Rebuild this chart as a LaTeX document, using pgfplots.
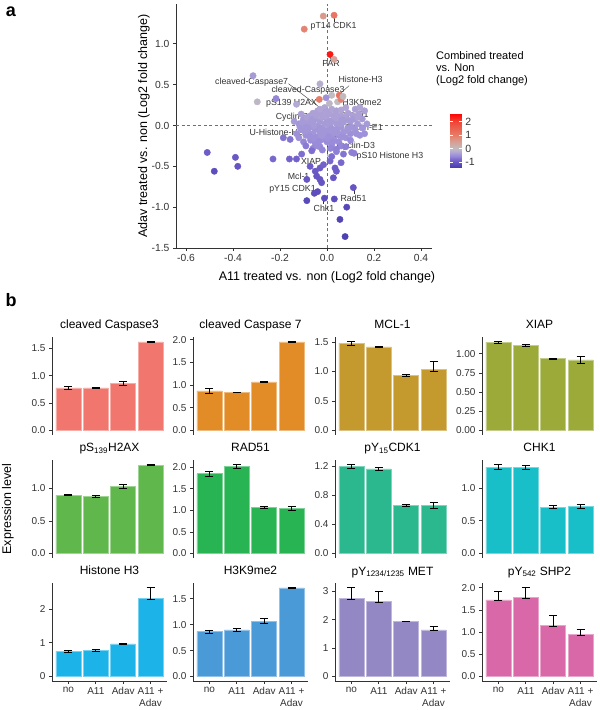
\documentclass[border=0pt]{standalone}
\usepackage{fontspec}
\setmainfont{Liberation Sans}
\usepackage{pgfplots}
\pgfplotsset{compat=1.18}
\definecolor{tk}{HTML}{333333}
\definecolor{c1}{HTML}{F0766E}
\definecolor{c2}{HTML}{E28C28}
\definecolor{c3}{HTML}{C49A2E}
\definecolor{c4}{HTML}{9CAA3A}
\definecolor{c5}{HTML}{60B84C}
\definecolor{c6}{HTML}{28B452}
\definecolor{c7}{HTML}{2CB88E}
\definecolor{c8}{HTML}{18BEC8}
\definecolor{c9}{HTML}{1CB4E8}
\definecolor{c10}{HTML}{4A9AD8}
\definecolor{c11}{HTML}{9488C4}
\definecolor{c12}{HTML}{D868A8}
\tikzset{lab/.style={font=\fontsize{8.8}{10}\selectfont, text=tk, inner sep=0pt}}
\pgfplotsset{
 bp/.style={scale only axis, width=115pt, height=98pt, anchor=north west,
  ybar, bar width=25pt,
  xmin=0.4, xmax=4.6, xtick={1,2,3,4},
  axis line style={tk, line width=0.8pt}, tick align=outside, major tick length=3pt,
  tick style={tk, line width=0.8pt},
  ticklabel style={font=\fontsize{10}{11}\selectfont, text=tk},
  title style={font=\fontsize{12}{14}\selectfont, at={(0.5,1)}, anchor=base, yshift=2pt, inner sep=0pt},
 },
 toprow/.style={axis y line*=left, axis x line=none},
 botrow/.style={axis lines*=left, xticklabels={no,A11,Adav,{A11 +\\Adav}}, xticklabel style={align=center, font=\fontsize{10}{12}\selectfont}},
 eb/.style={error bars/.cd, y dir=both, y explicit, error bar style={black, line width=0.7pt}, error mark options={black, line width=0.7pt, mark size=4pt, rotate=90}},
}
\begin{document}
\begin{tikzpicture}
\useasboundingbox (0pt,0pt) rectangle (600pt,710pt);
% panel letters
\node[font=\bfseries\fontsize{18}{20}\selectfont] at (11pt,698pt) {a};
\node[font=\bfseries\fontsize{18}{20}\selectfont] at (11pt,410pt) {b};
% scatter
\begin{axis}[
 at={(176pt,462pt)}, anchor=south west, scale only axis, width=256pt, height=244pt,
 xmin=-0.643, xmax=0.447, ymin=-1.5, ymax=1.488,
 axis lines*=left, axis line style={tk, line width=0.8pt},
 tick align=outside, major tick length=3pt, tick style={tk, line width=0.8pt},
 xtick={-0.6,-0.4,-0.2,0,0.2,0.4}, xticklabels={-0.6,-0.4,-0.2,0.0,0.2,0.4},
 ytick={-1.5,-1,-0.5,0,0.5,1}, yticklabels={-1.5,-1.0,-0.5,0.0,0.5,1.0},
 ticklabel style={font=\fontsize{10.3}{12}\selectfont, text=tk},
 colormap={cb}{rgb255(0pt)=(72,60,175) rgb255(4.7pt)=(110,92,200) rgb255(8.7pt)=(155,140,218) rgb255(11.7pt)=(180,170,212) rgb255(13.7pt)=(192,188,192) rgb255(18.7pt)=(215,160,150) rgb255(23.7pt)=(230,125,105) rgb255(33.7pt)=(240,70,55) rgb255(39.9pt)=(255,0,0)},
 point meta min=-1.37, point meta max=2.62,
 colorbar,
 colorbar style={at={(parent axis.north east)}, anchor=north west, xshift=9.7pt, yshift=-109.3pt,
   width=11.6pt, height=54pt, ytick={-1,0,1,2}, yticklabels={-1,0,1,2},
   yticklabel style={font=\fontsize{10.5}{12}\selectfont, text=tk},
   axis line style={draw=none}, major tick length=3pt, tick style={white, line width=0.6pt}},
 clip=false,
]
\draw[tk!70, line width=0.6pt, dash pattern=on 3pt off 2.5pt] (axis cs:0,-1.5) -- (axis cs:0,1.488);
\draw[tk!70, line width=0.6pt, dash pattern=on 3pt off 2.5pt] (axis cs:-0.643,0) -- (axis cs:0.447,0);
\addplot[scatter, only marks, mark=*, mark size=3.2pt, point meta=explicit,
 scatter/use mapped color={draw=mapped color, fill=mapped color}] table[meta=c] {
x y c
-0.12 0.02 -0.4
-0.11 -0.05 -0.4
-0.10 0.08 -0.35
-0.09 -0.12 -0.45
-0.09 0.00 -0.4
-0.08 0.05 -0.35
-0.08 -0.08 -0.4
-0.07 0.12 -0.3
-0.07 -0.02 -0.4
-0.07 -0.18 -0.5
-0.06 0.03 -0.35
-0.06 -0.10 -0.4
-0.06 0.15 -0.3
-0.05 -0.05 -0.4
-0.05 0.08 -0.35
-0.05 -0.22 -0.5
-0.04 0.00 -0.35
-0.04 -0.14 -0.45
-0.04 0.18 -0.3
-0.03 0.05 -0.35
-0.03 -0.08 -0.4
-0.03 -0.26 -0.55
-0.02 0.10 -0.3
-0.02 -0.03 -0.4
-0.02 -0.17 -0.45
-0.01 0.02 -0.35
-0.01 -0.11 -0.4
-0.01 0.22 -0.25
0.00 -0.06 -0.4
0.00 0.07 -0.35
0.00 -0.20 -0.5
0.01 0.00 -0.35
0.01 -0.13 -0.45
0.01 0.14 -0.3
0.02 -0.04 -0.4
0.02 0.06 -0.35
0.02 -0.24 -0.5
0.03 -0.09 -0.4
0.03 0.10 -0.3
0.03 -0.17 -0.45
0.04 0.02 -0.35
0.04 -0.05 -0.4
0.04 0.18 -0.3
0.05 -0.12 -0.45
0.05 0.06 -0.35
0.05 -0.20 -0.5
0.06 -0.02 -0.4
0.06 0.12 -0.3
0.07 -0.08 -0.4
0.07 0.04 -0.35
0.08 -0.15 -0.45
0.08 0.08 -0.35
0.09 -0.03 -0.4
0.09 0.15 -0.3
0.10 -0.10 -0.45
0.10 0.05 -0.35
0.11 0.12 -0.3
0.12 -0.05 -0.4
0.12 0.20 -0.3
0.13 0.02 -0.35
0.14 -0.12 -0.45
0.15 0.08 -0.35
0.16 0.18 -0.3
0.17 0.02 -0.35
-0.13 -0.10 -0.45
-0.14 0.05 -0.35
-0.10 -0.20 -0.55
-0.02 -0.30 -0.55
0.04 -0.32 -0.6
-0.06 -0.28 -0.55
0.08 0.22 -0.25
0.02 0.20 -0.25
-0.11 0.14 -0.3
-0.115 -0.02 -0.4
-0.105 0.04 -0.35
-0.095 -0.07 -0.4
-0.085 0.10 -0.3
-0.075 -0.13 -0.45
-0.065 0.07 -0.35
-0.055 -0.16 -0.45
-0.045 0.12 -0.3
-0.035 -0.20 -0.5
-0.025 0.15 -0.3
-0.015 -0.06 -0.4
-0.005 0.11 -0.3
0.005 -0.16 -0.45
0.015 0.04 -0.35
0.025 -0.20 -0.5
0.035 0.14 -0.3
0.045 -0.09 -0.4
0.055 0.02 -0.35
0.065 -0.14 -0.45
0.075 0.10 -0.3
0.085 -0.06 -0.4
0.095 0.06 -0.35
0.105 -0.02 -0.4
0.115 0.08 -0.35
0.125 -0.10 -0.45
0.135 0.14 -0.3
-0.045 -0.02 -0.4
-0.025 -0.12 -0.4
0.005 0.03 -0.35
0.025 -0.08 -0.4
0.045 0.09 -0.3
0.065 0.07 -0.35
-0.085 -0.03 -0.4
-0.055 0.00 -0.35
0.015 -0.28 -0.55
-0.04 -0.25 -0.5
0.06 -0.25 -0.55
0.10 -0.18 -0.5
-0.12 -0.15 -0.45
0.00 0.17 -0.3
-0.03 0.20 -0.25
0.06 0.19 -0.25
0.13 0.10 -0.3
0.15 -0.03 -0.4
0.14 0.22 -0.25
0.01 0.27 -0.05
0.045 0.29 0.0
-0.016 1.34 0.6
0.030 1.35 1.1
-0.097 1.18 0.9
0.013 0.87 2.4
0.030 0.81 0.45
-0.315 0.61 -0.35
-0.030 0.51 -0.15
0.052 0.37 1.2
0.060 0.32 0.9
-0.297 0.29 -0.05
-0.217 0.33 -0.55
-0.130 0.26 -0.2
-0.033 0.32 1.0
0.020 0.37 0.0
0.068 0.357 0.05
-0.004 0.34 -0.45
-0.186 -0.15 -0.7
-0.157 -0.17 -0.7
-0.510 -0.33 -0.9
-0.390 -0.39 -0.95
-0.380 -0.50 -1.0
-0.480 -0.56 -1.1
-0.230 -0.41 -0.8
-0.160 -0.41 -0.85
-0.130 -0.41 -0.85
-0.108 -0.35 -0.75
-0.065 -0.31 -0.75
-0.072 -0.50 -0.9
-0.050 -0.56 -0.95
-0.030 -0.52 -0.9
-0.015 -0.48 -0.85
0.013 -0.435 -0.8
0.034 -0.52 -0.9
0.060 -0.455 -0.8
-0.086 -0.66 -1.0
-0.044 -0.62 -1.0
-0.030 -0.66 -1.0
-0.023 -0.70 -1.0
0.027 -0.64 -1.0
0.040 -0.56 -0.9
-0.054 -0.83 -1.1
-0.040 -0.81 -1.1
-0.086 -0.92 -1.15
-0.011 -0.89 -1.1
0.031 -0.90 -1.1
0.112 -0.76 -1.0
0.084 -1.00 -1.2
0.055 -1.15 -1.25
0.077 -1.36 -1.3
0.040 -0.29 -0.6
0.105 -0.33 -0.6
0.115 -0.34 -0.6
0.160 -0.10 -0.45
0.070 -0.35 -0.7
0.080 -0.26 -0.6
0.020 -0.38 -0.75
-0.090 -0.25 -0.65
};
% leader lines
\draw[tk, line width=0.4pt] (axis cs:0.03,1.35) -- (axis cs:0.03,1.27);
\draw[tk, line width=0.4pt] (axis cs:0.013,0.87) -- (axis cs:0.015,0.80);
\draw[tk, line width=0.4pt] (axis cs:0.094,0.488) -- (axis cs:0.051,0.378);
\draw[tk, line width=0.4pt] (axis cs:-0.164,0.512) -- (axis cs:-0.001,0.155);
\draw[tk, line width=0.4pt] (axis cs:0,-0.18) -- (axis cs:0.004,-0.38);
\draw[tk, line width=0.4pt] (axis cs:-0.017,-0.89) -- (axis cs:-0.017,-0.96);
\draw[tk, line width=0.4pt] (axis cs:0.115,-0.76) -- (axis cs:0.115,-0.84);
% labels
\node[lab] at (axis cs:0.028,1.22) {pT14 CDK1};
\node[lab] at (axis cs:0.017,0.756) {PAR};
\node[lab] at (axis cs:0.143,0.56) {Histone-H3};
\node[lab] at (axis cs:-0.321,0.524) {cleaved-Caspase7};
\node[lab] at (axis cs:-0.081,0.427) {cleaved-Caspase3};
\node[lab] at (axis cs:0.149,0.285) {H3K9me2};
\node[lab] at (axis cs:-0.151,0.268) {pS139 H2AX};
\node[lab] at (axis cs:-0.138,0.098) {Cyclin-B1};
\node[lab] at (axis cs:0.096,0.126) {Cyclin-D1};
\node[lab] at (axis cs:0.157,-0.037) {Cyclin-E1};
\node[lab] at (axis cs:-0.204,-0.085) {U-Histone-H2B};
\node[lab] at (axis cs:-0.002,-0.11) {RRM2};
\node[lab] at (axis cs:0.123,-0.252) {Cyclin-D3};
\node[lab] at (axis cs:0.268,-0.382) {pS10 Histone H3};
\node[lab] at (axis cs:-0.068,-0.44) {XIAP};
\node[lab] at (axis cs:-0.121,-0.62) {Mcl-1};
\node[lab] at (axis cs:-0.147,-0.78) {pY15 CDK1};
\node[lab] at (axis cs:-0.013,-1.01) {Chk1};
\node[lab] at (axis cs:0.113,-0.89) {Rad51};
\end{axis}
\node[rotate=90, font=\fontsize{12.5}{14}\selectfont] at (144pt,584pt) {Adav treated vs. non (Log2 fold change)};
\node[font=\fontsize{12.5}{14}\selectfont] at (327pt,433pt) {A11 treated vs. non (Log2 fold change)};
\node[anchor=base west, align=left, inner sep=0pt, font=\fontsize{11}{12.3}\selectfont] at (436pt,626pt) {Combined treated\\vs. Non\\(Log2 fold change)};
\node[rotate=90, font=\fontsize{12.5}{14}\selectfont] at (8pt,201pt) {Expression level};
% ---- row 1
\begin{axis}[bp, toprow, at={(52pt,373pt)}, ymin=-0.0815, ymax=1.7115, ytick={0,0.5,1,1.5}, yticklabels={0.0,0.5,1.0,1.5}, title={cleaved Caspase3}]
\addplot[fill=c1, draw=c1!60!white, line width=0.5pt, eb] coordinates {(1,0.78) +- (0,0.03) (2,0.78) +- (0,0.01) (3,0.86) +- (0,0.035) (4,1.62) +- (0,0.01)};
\end{axis}
\begin{axis}[bp, toprow, at={(193pt,373pt)}, ymin=-0.098, ymax=2.058, ytick={0,0.5,1,1.5,2}, yticklabels={0.0,0.5,1.0,1.5,2.0}, title={cleaved Caspase 7}]
\addplot[fill=c2, draw=c2!60!white, line width=0.5pt, eb] coordinates {(1,0.87) +- (0,0.05) (2,0.84) +- (0,0.01) (3,1.07) +- (0,0.01) (4,1.95) +- (0,0.01)};
\end{axis}
\begin{axis}[bp, toprow, at={(335pt,373pt)}, ymin=-0.0755, ymax=1.5855, ytick={0,0.5,1,1.5}, yticklabels={0.0,0.5,1.0,1.5}, title={MCL-1}]
\addplot[fill=c3, draw=c3!60!white, line width=0.5pt, eb] coordinates {(1,1.48) +- (0,0.03) (2,1.42) +- (0,0.015) (3,0.93) +- (0,0.015) (4,1.04) += (0,0.13) -= (0,0.03)};
\end{axis}
\begin{axis}[bp, toprow, at={(482pt,373pt)}, ymin=-0.058, ymax=1.218, ytick={0,0.25,0.5,0.75,1}, yticklabels={0.00,0.25,0.50,0.75,1.00}, title={XIAP}]
\addplot[fill=c4, draw=c4!60!white, line width=0.5pt, eb] coordinates {(1,1.15) +- (0,0.01) (2,1.11) +- (0,0.01) (3,0.935) +- (0,0.006) (4,0.92) +- (0,0.04)};
\end{axis}
% ---- row 2
\begin{axis}[bp, toprow, at={(52pt,250pt)}, ymin=-0.0685, ymax=1.4385, ytick={0,0.5,1}, yticklabels={0.0,0.5,1.0}, title={pS\textsubscript{139}H2AX}]
\addplot[fill=c5, draw=c5!60!white, line width=0.5pt, eb] coordinates {(1,0.90) +- (0,0.01) (2,0.88) +- (0,0.01) (3,1.03) +- (0,0.03) (4,1.36) +- (0,0.01)};
\end{axis}
\begin{axis}[bp, toprow, at={(193pt,250pt)}, ymin=-0.103, ymax=2.163, ytick={0,0.5,1,1.5,2}, yticklabels={0.0,0.5,1.0,1.5,2.0}, title={RAD51}]
\addplot[fill=c6, draw=c6!60!white, line width=0.5pt, eb] coordinates {(1,1.85) +- (0,0.06) (2,2.02) +- (0,0.04) (3,1.07) +- (0,0.02) (4,1.05) +- (0,0.04)};
\end{axis}
\begin{axis}[bp, toprow, at={(335pt,250pt)}, ymin=-0.061, ymax=1.281, ytick={0,0.4,0.8,1.2}, yticklabels={0.0,0.4,0.8,1.2}, title={pY\textsubscript{15}CDK1}]
\addplot[fill=c7, draw=c7!60!white, line width=0.5pt, eb] coordinates {(1,1.19) +- (0,0.03) (2,1.16) +- (0,0.02) (3,0.66) +- (0,0.01) (4,0.66) +- (0,0.04)};
\end{axis}
\begin{axis}[bp, toprow, at={(482pt,250pt)}, ymin=-0.068, ymax=1.428, ytick={0,0.5,1}, yticklabels={0.0,0.5,1.0}, title={CHK1}]
\addplot[fill=c8, draw=c8!60!white, line width=0.5pt, eb] coordinates {(1,1.32) +- (0,0.04) (2,1.31) +- (0,0.03) (3,0.71) +- (0,0.02) (4,0.72) +- (0,0.03)};
\end{axis}
% ---- row 3
\begin{axis}[bp, botrow, at={(52pt,127pt)}, ymin=-0.132, ymax=2.772, ytick={0,1,2}, yticklabels={0,1,2}, title={Histone H3}]
\addplot[fill=c9, draw=c9!60!white, line width=0.5pt, eb] coordinates {(1,0.75) +- (0,0.02) (2,0.78) +- (0,0.02) (3,0.97) +- (0,0.01) (4,2.31) += (0,0.33) -= (0,0.03)};
\end{axis}
\begin{axis}[bp, botrow, at={(193pt,127pt)}, ymin=-0.086, ymax=1.806, ytick={0,0.5,1,1.5}, yticklabels={0.0,0.5,1.0,1.5}, title={H3K9me2}]
\addplot[fill=c10, draw=c10!60!white, line width=0.5pt, eb] coordinates {(1,0.87) +- (0,0.03) (2,0.90) +- (0,0.03) (3,1.07) +- (0,0.05) (4,1.71) +- (0,0.01)};
\end{axis}
\begin{axis}[bp, botrow, at={(335pt,127pt)}, ymin=-0.1565, ymax=3.2865, ytick={0,1,2,3}, yticklabels={0,1,2,3}, title={pY\textsubscript{1234/1235} MET}]
\addplot[fill=c11, draw=c11!60!white, line width=0.5pt, eb] coordinates {(1,2.75) += (0,0.38) -= (0,0.03) (2,2.63) += (0,0.35) -= (0,0.03) (3,1.94) +- (0,0.01) (4,1.64) += (0,0.13) -= (0,0.03)};
\end{axis}
\begin{axis}[bp, botrow, at={(482pt,127pt)}, ymin=-0.1005, ymax=2.1105, ytick={0,0.5,1,1.5,2}, yticklabels={0.0,0.5,1.0,1.5,2.0}, title={pY\textsubscript{542} SHP2}]
\addplot[fill=c12, draw=c12!60!white, line width=0.5pt, eb] coordinates {(1,1.73) += (0,0.19) -= (0,0.02) (2,1.79) += (0,0.22) -= (0,0.02) (3,1.16) += (0,0.22) -= (0,0.02) (4,0.95) += (0,0.12) -= (0,0.03)};
\end{axis}
\end{tikzpicture}
\end{document}
